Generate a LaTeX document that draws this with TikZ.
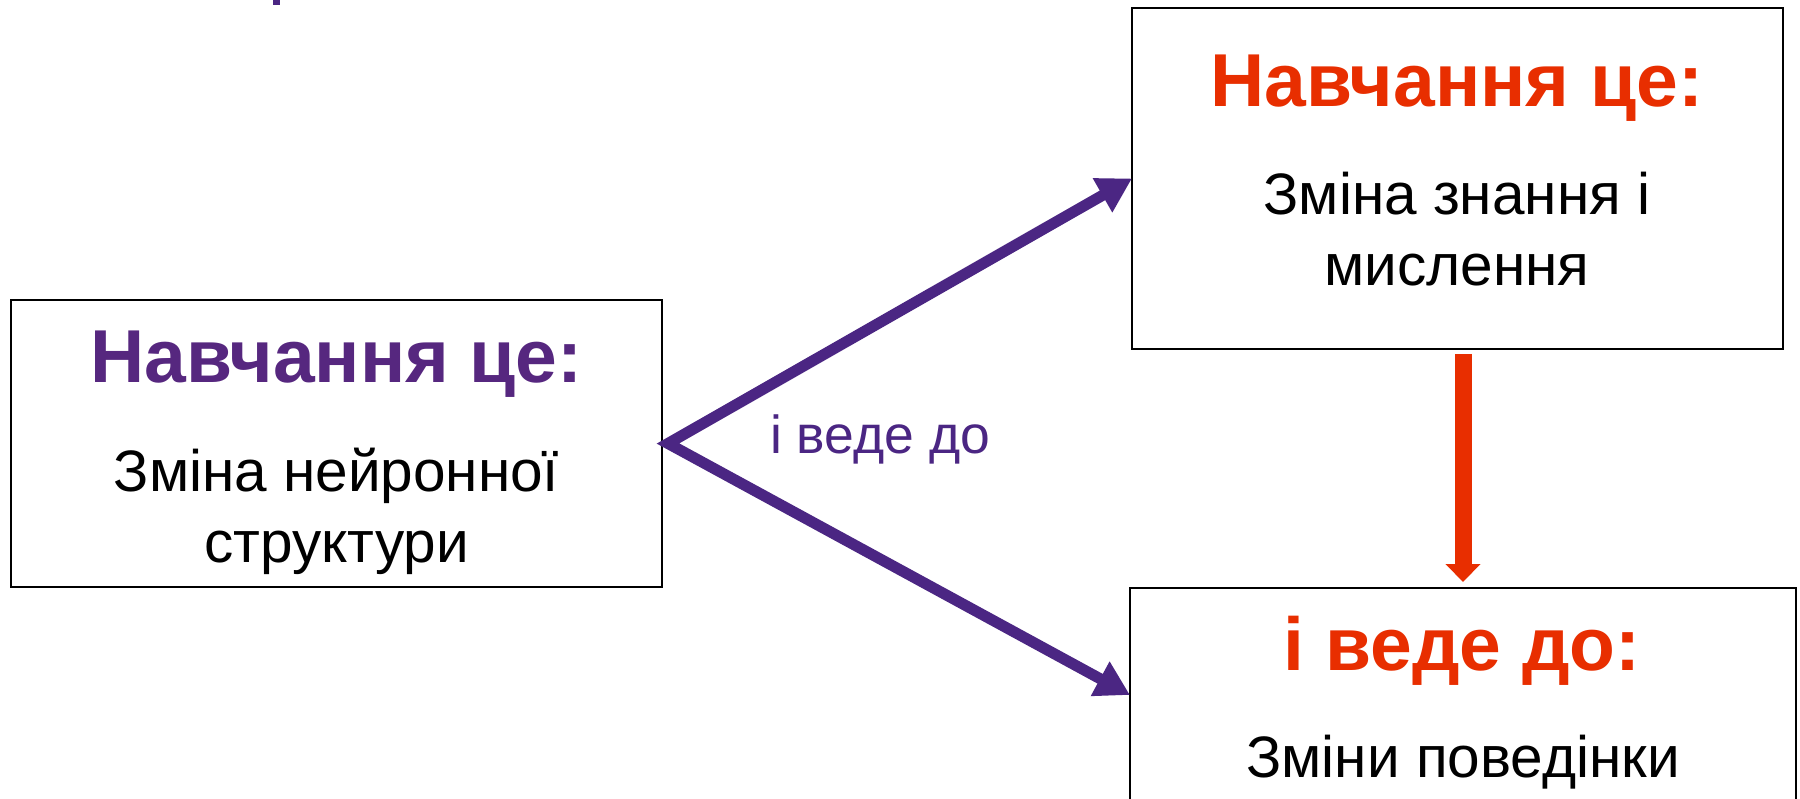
\documentclass[tikz,border=0pt]{standalone}
\usepackage{fontspec}
\setmainfont{Liberation Sans}
\usetikzlibrary{arrows.meta}
\definecolor{violetA}{HTML}{4B2683}
\definecolor{violetT}{HTML}{56277F}
\definecolor{redA}{HTML}{E82E00}
\begin{document}
\begin{tikzpicture}[x=1pt,y=1pt,
  box/.style={draw=black, line width=2.2pt, fill=white, inner sep=0pt, outer sep=0pt},
  ttl/.style={anchor=base, inner sep=0pt, font=\fontsize{75}{80}\selectfont\bfseries},
  bodytxt/.style={anchor=base, inner sep=0pt, font=\fontsize{58.5}{70}\selectfont},
  parr/.style={draw=violetA, line width=11pt, line join=miter,
    {Triangle[length=34pt,width=37pt]}-{Triangle[length=34pt,width=37pt]}},
  rarr/.style={draw=redA, line width=17pt, -{Triangle[length=18pt,width=34pt]}}
]
\clip (0,0) rectangle (1800,-799);
\fill[white] (0,0) rectangle (1800,-799);

% boxes
\node[box, minimum width=651pt, minimum height=287pt] (L) at (336.5,-443.5) {};
\node[box, minimum width=651pt, minimum height=341pt] (TR) at (1457.5,-178.5) {};
\node[box, minimum width=666pt, minimum height=214pt] (B) at (1463,-695) {};

% texts
\node[ttl, text=violetT] (Lt) at (336.5,-383) {Навчання це:};
\node[bodytxt] (Lb1) at (336.5,-492) {Зміна нейронної};
\node[bodytxt] (Lb2) at (336.5,-562) {структури};

\node[ttl, text=redA] (TRt) at (1457,-107) {Навчання це:};
\node[bodytxt] (TRb1) at (1457,-215) {Зміна знання і};
\node[bodytxt] (TRb2) at (1457,-286) {мислення};

\node[ttl, text=redA] (Bt) at (1462,-670) {і веде до:};
\node[bodytxt] (Bb1) at (1463,-777) {Зміни поведінки};

\node[anchor=base west, inner sep=0pt, font=\fontsize{53.5}{60}\selectfont, text=violetA] (lab) at (770,-454) {і веде до};

% connectors
\coordinate (V) at ([xshift=6pt]L.east);
\draw[parr] (TR.west) -- (V) -- (B.west);
\draw[rarr] ([yshift=-5pt]TR.south -| B.north) -- ([yshift=6pt]B.north);

% fragment of cropped text at top edge
\fill[violetA] (273,0) rectangle (280,-5);
\end{tikzpicture}
\end{document}
